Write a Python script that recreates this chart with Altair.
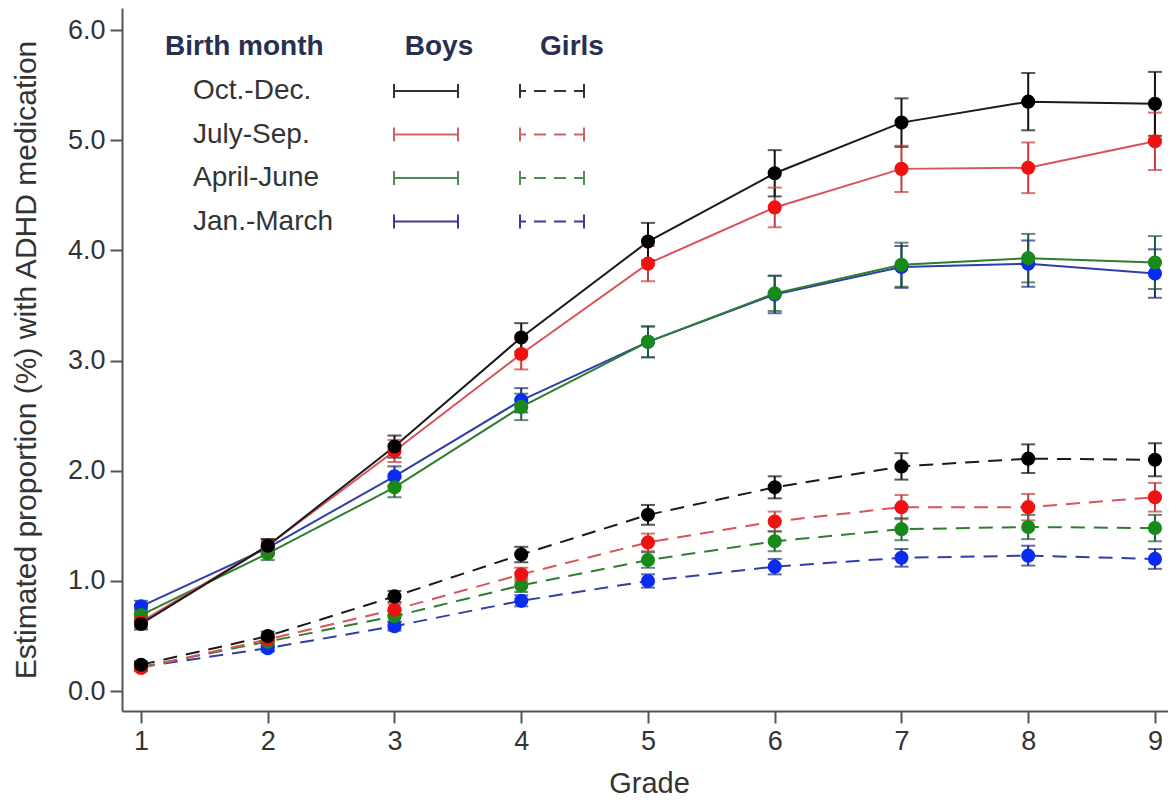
import altair as alt
import pandas as pd

grades = [1, 2, 3, 4, 5, 6, 7, 8, 9]
months = ["Oct.-Dec.", "July-Sep.", "April-June", "Jan.-March"]
sexes = ["Boys", "Girls"]

# Boys (solid lines): estimate and half-width of error bar
boys_octdec = [0.61, 1.32, 2.22, 3.21, 4.08, 4.70, 5.16, 5.35, 5.33]
boys_octdec_err = [0.05, 0.06, 0.10, 0.13, 0.17, 0.21, 0.22, 0.26, 0.29]
boys_julsep = [0.63, 1.32, 2.18, 3.06, 3.88, 4.39, 4.74, 4.75, 4.99]
boys_julsep_err = [0.05, 0.06, 0.10, 0.14, 0.16, 0.18, 0.21, 0.23, 0.26]
boys_aprjun = [0.69, 1.25, 1.85, 2.58, 3.17, 3.61, 3.87, 3.93, 3.89]
boys_aprjun_err = [0.05, 0.06, 0.09, 0.12, 0.14, 0.16, 0.20, 0.22, 0.24]
boys_janmar = [0.77, 1.30, 1.95, 2.64, 3.17, 3.60, 3.85, 3.88, 3.79]
boys_janmar_err = [0.05, 0.06, 0.09, 0.11, 0.14, 0.17, 0.19, 0.21, 0.22]

# Girls (dashed lines)
girls_octdec = [0.24, 0.50, 0.86, 1.24, 1.60, 1.85, 2.04, 2.11, 2.10]
girls_octdec_err = [0.03, 0.04, 0.05, 0.07, 0.09, 0.10, 0.12, 0.13, 0.15]
girls_julsep = [0.21, 0.47, 0.74, 1.06, 1.35, 1.54, 1.67, 1.67, 1.76]
girls_julsep_err = [0.03, 0.04, 0.05, 0.06, 0.08, 0.09, 0.11, 0.12, 0.13]
girls_aprjun = [0.22, 0.45, 0.68, 0.96, 1.19, 1.36, 1.47, 1.49, 1.48]
girls_aprjun_err = [0.03, 0.04, 0.05, 0.06, 0.07, 0.09, 0.10, 0.11, 0.12]
girls_janmar = [0.22, 0.39, 0.59, 0.82, 1.00, 1.13, 1.21, 1.23, 1.20]
girls_janmar_err = [0.03, 0.03, 0.04, 0.05, 0.06, 0.07, 0.08, 0.09, 0.09]

y_ticks = [0, 1, 2, 3, 4, 5, 6]

point_colors = ["#000000", "#f01212", "#178a17", "#0a2cf0"]
line_colors = ["#1a1a1a", "#d9545a", "#2f7d2f", "#2f3ea8"]
err_colors = ["#111111", "#c43c3c", "#1f5a3a", "#1a2a80"]
legend_colors = ["#333333", "#cc6464", "#4d8f4d", "#3d3d8f"]

series = [
    # drawn in this order: blue, green, red, black last
    ("Jan.-March", "Boys", boys_janmar, boys_janmar_err),
    ("April-June", "Boys", boys_aprjun, boys_aprjun_err),
    ("July-Sep.", "Boys", boys_julsep, boys_julsep_err),
    ("Oct.-Dec.", "Boys", boys_octdec, boys_octdec_err),
    ("Jan.-March", "Girls", girls_janmar, girls_janmar_err),
    ("April-June", "Girls", girls_aprjun, girls_aprjun_err),
    ("July-Sep.", "Girls", girls_julsep, girls_julsep_err),
    ("Oct.-Dec.", "Girls", girls_octdec, girls_octdec_err),
]
rows = []
for month, sex, vals, errs in series:
    for g, v, e in zip(grades, vals, errs):
        rows.append(dict(grade=g, value=v, lo=v - e, hi=v + e, month=month,
                         sex=sex, series=f"{sex} {month}"))
df = pd.DataFrame(rows)

FONT = "Liberation Sans"

xscale = alt.Scale(domain=[0.85, 9.103], nice=False, zero=False)
yscale = alt.Scale(domain=[-0.18, 6.2], nice=False, zero=False)

x_axis = alt.Axis(values=grades, title="Grade", format="d", titleY=72, titleX=527,
                  titleBaseline="middle")
y_axis = alt.Axis(values=y_ticks, format=".1f",
                  title="Estimated proportion (%) with ADHD medication",
                  titleX=-96, titleBaseline="middle", titleFontSize=30)

X = alt.X("grade:Q", scale=xscale, axis=x_axis)
YF = lambda f: alt.Y(f, scale=yscale, axis=y_axis)

base = alt.Chart(df)

line_col = alt.Color("month:N", scale=alt.Scale(domain=months, range=line_colors), legend=None)
err_col = alt.Color("month:N", scale=alt.Scale(domain=months, range=err_colors), legend=None)
pt_col = alt.Color("month:N", scale=alt.Scale(domain=months, range=point_colors), legend=None)

boys_lines = base.transform_filter(alt.datum.sex == "Boys").mark_line(strokeWidth=2).encode(
    x=X, y=YF("value:Q"), color=line_col, detail="series:N")
girls_lines = base.transform_filter(alt.datum.sex == "Girls").mark_line(
    strokeWidth=2, strokeDash=[14, 9]).encode(
    x=X, y=YF("value:Q"), color=line_col, detail="series:N")

err_rules = base.mark_rule(strokeWidth=2).encode(
    x=X, y=YF("lo:Q"), y2="hi:Q", color=err_col)
cap_lo = base.mark_tick(orient="horizontal", size=14, thickness=2).encode(
    x=X, y=YF("lo:Q"), color=err_col)
cap_hi = base.mark_tick(orient="horizontal", size=14, thickness=2).encode(
    x=X, y=YF("hi:Q"), color=err_col)

points = base.mark_circle(size=200, opacity=1).encode(
    x=X, y=YF("value:Q"), color=pt_col)

main = alt.layer(boys_lines, girls_lines, err_rules, cap_lo, cap_hi, points).resolve_scale(
    color="independent")

# ---- custom legend (pixel positions inside the plot area) ----
row_y = [83 + i * 43.5 for i in range(len(months))]
hdr_df = pd.DataFrame({"text": ["Birth month"], "px": [43], "py": [39]})
sex_df = pd.DataFrame({"text": sexes, "px": [317, 450], "py": [39, 39]})
lab_df = pd.DataFrame({"text": months, "px": [71] * 4, "py": row_y})
seg_rows = []
for m, yy in zip(months, row_y):
    seg_rows.append(dict(month=m, sex="Boys", x1=272, x2=336, py=yy, y1=yy - 7, y2=yy + 7))
    seg_rows.append(dict(month=m, sex="Girls", x1=398, x2=462, py=yy, y1=yy - 7, y2=yy + 7))
seg_df = pd.DataFrame(seg_rows)

PX = lambda f: alt.X(f, scale=None, axis=None)
PY = lambda f: alt.Y(f, scale=None, axis=None)
leg_col = alt.Color("month:N", scale=alt.Scale(domain=months, range=legend_colors), legend=None)

hdr = alt.Chart(hdr_df).mark_text(font=FONT, fontSize=28, fontWeight="bold", align="left",
                                  baseline="middle", color="#283050").encode(
    x=PX("px:Q"), y=PY("py:Q"), text="text:N")
sexhdr = alt.Chart(sex_df).mark_text(font=FONT, fontSize=28, fontWeight="bold", align="center",
                                     baseline="middle", color="#283050").encode(
    x=PX("px:Q"), y=PY("py:Q"), text="text:N")
labs = alt.Chart(lab_df).mark_text(font=FONT, fontSize=28, align="left", baseline="middle",
                                   color="#333333").encode(
    x=PX("px:Q"), y=PY("py:Q"), text="text:N")
seg_boys = alt.Chart(seg_df).transform_filter(alt.datum.sex == "Boys").mark_rule(
    strokeWidth=2).encode(x=PX("x1:Q"), x2="x2:Q", y=PY("py:Q"), color=leg_col)
seg_girls = alt.Chart(seg_df).transform_filter(alt.datum.sex == "Girls").mark_rule(
    strokeWidth=2, strokeDash=[12, 8], strokeDashOffset=-14).encode(
    x=PX("x1:Q"), x2="x2:Q", y=PY("py:Q"), color=leg_col)
cap_l = alt.Chart(seg_df).mark_rule(strokeWidth=2).encode(
    x=PX("x1:Q"), y=PY("y1:Q"), y2="y2:Q", color=leg_col)
cap_r = alt.Chart(seg_df).mark_rule(strokeWidth=2).encode(
    x=PX("x2:Q"), y=PY("y1:Q"), y2="y2:Q", color=leg_col)

legend = alt.layer(hdr, sexhdr, labs, seg_boys, seg_girls, cap_l, cap_r)

chart = alt.layer(main, legend).resolve_scale(
    x="independent", y="independent", color="independent"
).properties(
    width=1046, height=703,
    padding={"left": 114, "top": 0, "right": 0, "bottom": 91},
    autosize=alt.AutoSizeParams(type="none"),
    background="white",
).configure_view(stroke=None).configure_axis(
    grid=False, domainColor="#555555", domainWidth=2, tickColor="#555555", tickWidth=2,
    tickSize=12, labelFont=FONT, labelFontSize=27, labelColor="#333333", labelPadding=5,
    titleFont=FONT, titleFontSize=29, titleFontWeight="normal", titleColor="#333333",
)

chart.save("out.html", embed_options={"renderer": "svg", "actions": False})
